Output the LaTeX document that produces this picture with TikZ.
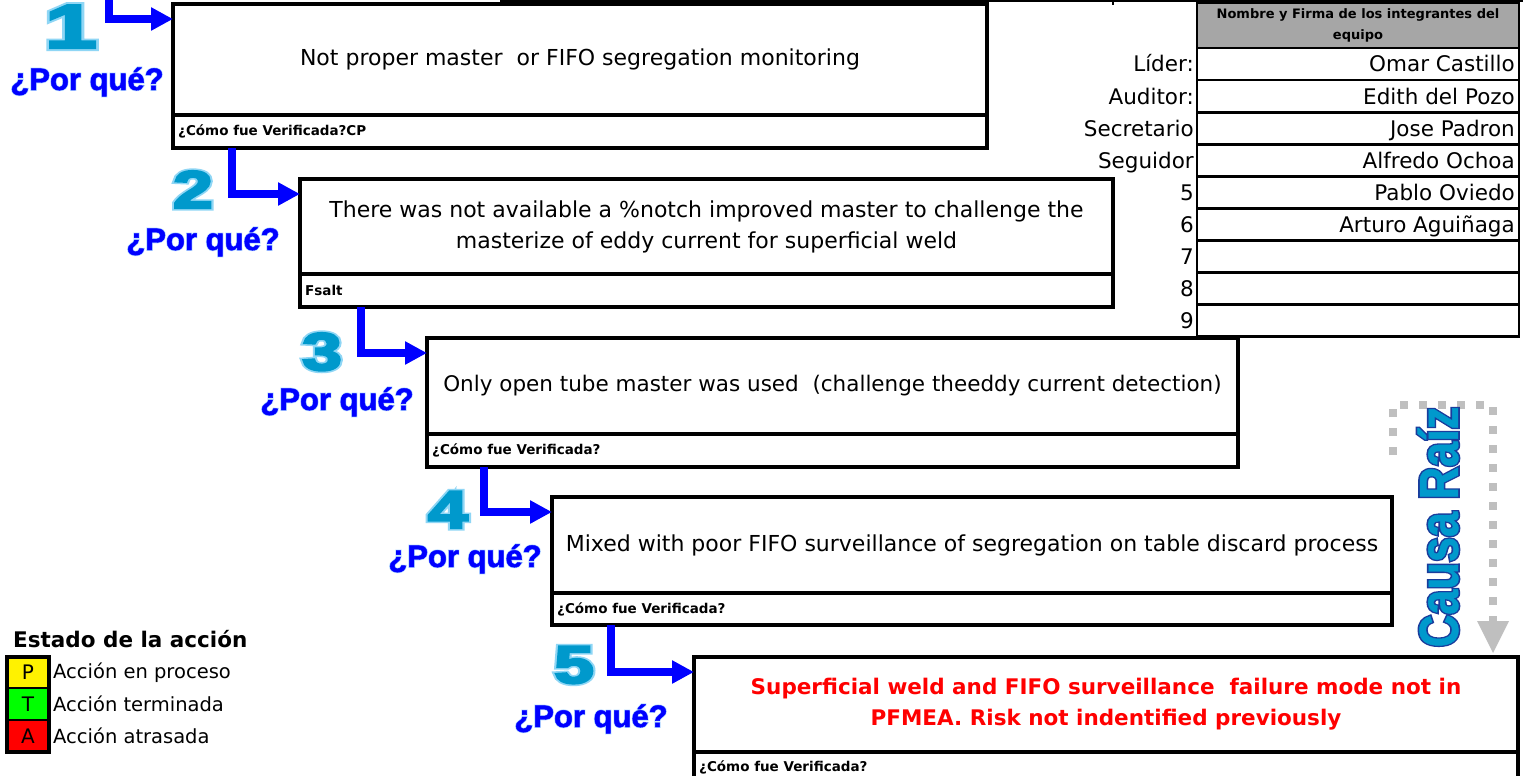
\documentclass[tikz,border=0pt]{standalone}
\usepackage{fontspec}
\setmainfont{DejaVu Sans}
\newfontfamily\lib{Liberation Sans}
\newfontfamily\digf[FakeBold=4]{Liberation Sans Bold}
\newfontfamily\digglow[FakeBold=10]{Liberation Sans Bold}
\newfontfamily\whyf[FakeBold=1.5]{Liberation Sans Bold}
\newfontfamily\whyglowf[FakeBold=6]{Liberation Sans Bold}
\newfontfamily\causef[FakeBold=1]{Liberation Sans Bold}
\newfontfamily\causeglowf[FakeBold=7]{Liberation Sans Bold}
\usetikzlibrary{arrows.meta}
\definecolor{numblue}{HTML}{0099CC}
\definecolor{numglow}{HTML}{8FD6F5}
\definecolor{whyblue}{HTML}{0000FF}
\definecolor{whyglow}{HTML}{B4DAFF}
\definecolor{causeline}{HTML}{1A3C9C}
\definecolor{headgray}{HTML}{A6A6A6}
\definecolor{dotgray}{HTML}{BFBFBF}
\definecolor{rootred}{HTML}{FF0000}
\tikzset{
  mainbox/.style={draw, line width=3.5pt, anchor=north west, inner sep=0pt, outer sep=0pt,
    font=\fontsize{22}{31}\selectfont, align=center},
  footbox/.style={draw, line width=3.5pt, anchor=north west, inner sep=0pt, outer sep=0pt},
  foottext/.style={anchor=west, inner sep=0pt, font=\bfseries\fontsize{13.5}{16}\selectfont},
  whyarrow/.style={draw=whyblue, line width=7.5pt, -{Triangle[length=22pt,width=22pt]}},
  why/.style={anchor=base, inner sep=0pt, text=whyblue, font=\whyf\fontsize{31}{31}\selectfont},
  whyg/.style={anchor=base, inner sep=0pt, text=whyglow, font=\whyglowf\fontsize{31}{31}\selectfont},
  digit/.style={anchor=base, inner sep=0pt, text=numblue, font=\digf\fontsize{53}{53}\selectfont},
  digitg/.style={anchor=base, inner sep=0pt, text=numglow, font=\digglow\fontsize{53}{53}\selectfont},
  cell/.style={draw, line width=2.7pt, anchor=north west, inner sep=0pt, outer sep=0pt,
    minimum width=322pt, minimum height=32pt},
  celltext/.style={anchor=base east, inner sep=0pt, font=\fontsize{21.5}{26}\selectfont},
  legcell/.style={draw, line width=2.5pt, anchor=north west, inner sep=0pt, outer sep=0pt,
    minimum width=42pt, minimum height=32pt, font=\fontsize{20}{24}\selectfont},
  legtext/.style={anchor=west, inner sep=0pt, font=\fontsize{19.5}{24}\selectfont},
}
\begin{document}
\begin{tikzpicture}[x=1pt,y=-1pt]
\useasboundingbox (0,0) rectangle (1523,776);
\clip (0,0) rectangle (1523,776);
\fill[white] (0,0) rectangle (1523,776);

% remnants of the table above
\draw[line width=2.5pt] (500,1.25) -- (1523,1.25);
\foreach \tx in {840,905,1113,1265}{\draw[line width=2.5pt] (\tx,0) -- (\tx,5);}

% why boxes
\node[mainbox, minimum width=814pt, minimum height=111pt] (b1) at (173,4)
  {Not proper master~ or FIFO segregation monitoring};
\node[footbox, minimum width=814pt, minimum height=33pt] (b1f) at (173,115) {};
\node[foottext] (b1t) at ([xshift=5pt]b1f.west) {¿Cómo fue Verificada?CP};

\node[mainbox, minimum width=813pt, minimum height=95pt] (b2) at (300,179)
  {There was not available a \%notch improved master to challenge the\\masterize of eddy current for superficial weld};
\node[footbox, minimum width=813pt, minimum height=33pt] (b2f) at (300,274) {};
\node[foottext] (b2t) at ([xshift=5pt]b2f.west) {Fsalt};

\node[mainbox, minimum width=811pt, minimum height=96pt, font=\fontsize{21.5}{31}\selectfont] (b3) at (427,338)
  {Only open tube master was used~ (challenge theeddy current detection)};
\node[footbox, minimum width=811pt, minimum height=33pt] (b3f) at (427,434) {};
\node[foottext] (b3t) at ([xshift=5pt]b3f.west) {¿Cómo fue Verificada?};

\node[mainbox, minimum width=840pt, minimum height=96pt] (b4) at (552,497)
  {Mixed with poor FIFO surveillance of segregation on table discard process};
\node[footbox, minimum width=840pt, minimum height=32pt] (b4f) at (552,593) {};
\node[foottext] (b4t) at ([xshift=5pt]b4f.west) {¿Cómo fue Verificada?};

\node[mainbox, minimum width=824pt, minimum height=95pt, text=rootred, font=\bfseries\fontsize{21.5}{31}\selectfont] (b5) at (694,657)
  {Superficial weld and FIFO surveillance~ failure mode not in\\PFMEA. Risk not indentified previously};
\node[footbox, minimum width=824pt, minimum height=40pt] (b5f) at (694,752) {};
\node[foottext] (b5t) at ([xshift=5pt,yshift=-15pt]b5f.north west) {¿Cómo fue Verificada?};

% connectors
\coordinate (s1) at (109,-3);
\draw[whyarrow] (s1) |- ([yshift=-15pt]b1.north west);
\draw[whyarrow] ([xshift=59pt]b1f.south west) |- ([yshift=-15pt]b2.north west);
\draw[whyarrow] ([xshift=61pt]b2f.south west) |- ([yshift=-15pt]b3.north west);
\draw[whyarrow] ([xshift=57pt]b3f.south west) |- ([yshift=-15pt]b4.north west);
\draw[whyarrow] ([xshift=59pt]b4f.south west) |- ([yshift=-15pt]b5.north west);

% big numbers
\node[digitg, font=\digglow\fontsize{62}{62}\selectfont] (d1g) at (71,48) {\scalebox{1.5}[1]{1}};
\node[digit, font=\digf\fontsize{62}{62}\selectfont] (d1) at (71,48) {\scalebox{1.5}[1]{1}};
\node[digitg] (d2g) at (193,208) {\scalebox{1.35}[1]{2}};
\node[digit] (d2) at (193,208) {\scalebox{1.35}[1]{2}};
\node[digitg] (d3g) at (322,370) {\scalebox{1.35}[1]{3}};
\node[digit] (d3) at (322,370) {\scalebox{1.35}[1]{3}};
\node[digitg] (d4g) at (448,528) {\scalebox{1.35}[1]{4}};
\node[digit] (d4) at (448,528) {\scalebox{1.35}[1]{4}};
\node[digitg] (d5g) at (574,683) {\scalebox{1.35}[1]{5}};
\node[digit] (d5) at (574,683) {\scalebox{1.35}[1]{5}};

% por que labels
\node[whyg] (w1g) at (87,90) {¿Por qué?};
\node[why] (w1) at (87,90) {¿Por qué?};
\node[whyg] (w2g) at (203,250) {¿Por qué?};
\node[why] (w2) at (203,250) {¿Por qué?};
\node[whyg] (w3g) at (337,410) {¿Por qué?};
\node[why] (w3) at (337,410) {¿Por qué?};
\node[whyg] (w4g) at (465,567) {¿Por qué?};
\node[why] (w4) at (465,567) {¿Por qué?};
\node[whyg] (w5g) at (591,727) {¿Por qué?};
\node[why] (w5) at (591,727) {¿Por qué?};

% team table
\node[cell, minimum height=45pt, fill=headgray, align=center, font=\bfseries\fontsize{13}{21}\selectfont] (th) at (1197,3)
  {Nombre y Firma de los integrantes del\\equipo};
\foreach \lab/\nm [count=\i from 0] in {Líder:/Omar Castillo, Auditor:/Edith del Pozo, Secretario/Jose Padron,
    Seguidor/Alfredo Ochoa, 5/Pablo Oviedo, 6/Arturo Aguiñaga, 7/, 8/, 9/}{
  \node[cell] (r\i) at (1197,{48+32.1*\i}) {};
  \node[celltext] (rn\i) at ([xshift=-4pt,yshift=-8pt]r\i.east) {\nm};
  \node[celltext] (rl\i) at ([xshift=-3pt,yshift=-8pt]r\i.west) {\lab};
}

% legend
\node[anchor=base west, inner sep=0pt, font=\bfseries\fontsize{21.5}{26}\selectfont] (lgt) at (13,647) {Estado de la acción};
\node[legcell, fill=yellow, minimum height=31pt] (lp) at (7,657) {P};
\node[legcell, fill=green] (lt) at (7,688) {T};
\node[legcell, fill=red] (la) at (7,720) {A};
\draw[line width=3.5pt] (lp.north west) rectangle (la.south east);
\node[legtext] (lpt) at ([xshift=4pt]lp.east) {Acción en proceso};
\node[legtext] (ltt) at ([xshift=4pt]lt.east) {Acción terminada};
\node[legtext] (lat) at ([xshift=4pt]la.east) {Acción atrasada};

% causa raiz
\draw[dotgray, line width=8pt, dash pattern=on 8pt off 11pt] (1393,455) -- (1393,405) -- (1493,405) -- (1493,624);
\fill[dotgray] (1477,621) -- (1509,621) -- (1493,653) -- cycle;
\node[rotate=90, inner sep=0pt, text=causeline, font=\causeglowf\fontsize{55}{55}\selectfont] (crg) at (1438,527) {\scalebox{0.82}[1]{Causa Raíz}};
\node[rotate=90, inner sep=0pt, text=numblue, font=\causef\fontsize{55}{55}\selectfont] (cr) at (1438,527) {\scalebox{0.82}[1]{Causa Raíz}};
\end{tikzpicture}
\end{document}
